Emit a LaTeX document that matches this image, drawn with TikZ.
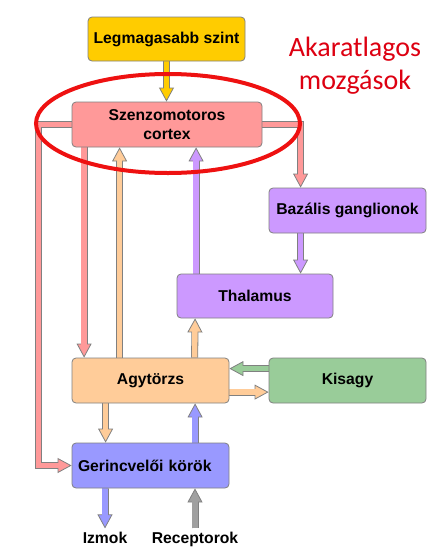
\documentclass[tikz,border=0pt]{standalone}
\usepackage{fontspec}
\setmainfont{Liberation Sans}
\newfontfamily\calib{Carlito}
\usetikzlibrary{arrows.meta,calc}
\definecolor{gold}{HTML}{FFCC00}
\definecolor{pinkc}{HTML}{FF9999}
\definecolor{purp}{HTML}{CC99FF}
\definecolor{peach}{HTML}{FFCC99}
\definecolor{greenc}{HTML}{99CC99}
\definecolor{bluec}{HTML}{9999FF}
\definecolor{grayc}{HTML}{A0A0A0}
\definecolor{bord}{HTML}{808080}
\definecolor{ellred}{HTML}{EE1111}
\definecolor{txtred}{HTML}{DD0011}
\pgfdeclarelayer{arrowlayer}
\pgfsetlayers{arrowlayer,main}
\newcommand\blockarrow[2]{%
  \draw[line width=7pt, draw=bord, line join=miter,
    -{Triangle[width=15pt,length=14pt,line width=0.8pt,fill=#1]}] #2;
  \draw[line width=5.4pt, draw=#1, line join=miter, shorten >=12.5pt] #2;}
\tikzset{
  box/.style={draw=bord, line width=0.8pt, rounded corners=4pt,
    minimum width=157pt, minimum height=45pt, inner sep=0pt,
    font=\bfseries\fontsize{15.7}{19}\selectfont, align=center},
  lbl/.style={font=\bfseries\fontsize{15.7}{19}\selectfont, inner sep=3pt, anchor=base}
}
\begin{document}
\begin{tikzpicture}[x=1pt,y=-1pt]
\useasboundingbox (0,0) rectangle (439,555);
\node[box, fill=gold, minimum height=44pt] (legm) at (166.5,39) {Legmagasabb szint};
\node[box, fill=pinkc, minimum width=190pt] (cortex) at (167,124.5) {Szenzomotoros\\cortex};
\node[box, fill=purp] (bazalis) at (347.5,210.5) {Bazális ganglionok};
\node[box, fill=purp, minimum width=156pt, minimum height=44pt] (thalamus) at (255,296) {Thalamus};
\node[box, fill=peach] (agy) at (150.5,380.5) {Agytörzs};
\node[box, fill=greenc] (kisagy) at (347.5,380.5) {Kisagy};
\node[box, fill=bluec, text width=145pt, align=left] (gerinc) at (150.5,465.5) {Gerincvelői körök};
\node[lbl] (izmok) at (105,543) {Izmok};
\node[lbl] (recept) at (195,543) {Receptorok};
\node[font=\calib\fontsize{28}{33}\selectfont, text=txtred, align=center] (akar) at (355,66) {Akaratlagos\\mozgások};
\begin{pgfonlayer}{arrowlayer}
\blockarrow{gold}{(legm.south) -- (legm.south |- cortex.north)}
\blockarrow{pinkc}{(cortex.west) -- ++(-33,0) |- (gerinc.west)}
\blockarrow{pinkc}{([xshift=12.5pt]cortex.south west) -- ([xshift=12.5pt]agy.north west)}
\blockarrow{pinkc}{(cortex.east) -| ([xshift=32pt]bazalis.north west)}
\blockarrow{peach}{([xshift=48pt]agy.north west) -- ([xshift=48pt]cortex.south west)}
\blockarrow{purp}{([xshift=19.5pt]thalamus.north west) -- ([xshift=124.5pt]cortex.south west)}
\blockarrow{purp}{([xshift=32pt]bazalis.south west) -- ([xshift=124pt]thalamus.north west)}
\blockarrow{peach}{([xshift=123pt]agy.north west) -- ([xshift=18.5pt]thalamus.south west)}
\blockarrow{greenc}{([yshift=-11pt]kisagy.north west) -- ([yshift=-11pt]agy.north east)}
\blockarrow{peach}{([yshift=-34.5pt]agy.north east) -- ([yshift=-34.5pt]kisagy.north west)}
\blockarrow{peach}{([xshift=34pt]agy.south west) -- ([xshift=34pt]gerinc.north west)}
\blockarrow{bluec}{([xshift=123.5pt]gerinc.north west) -- ([xshift=123.5pt]agy.south west)}
\blockarrow{bluec}{([xshift=34pt]gerinc.south west) -- (gerinc.south west -| izmok.north) -- (izmok.north)}
\blockarrow{grayc}{(recept.north) -- (recept.north |- gerinc.south)}
\end{pgfonlayer}
\draw[ellred, line width=4pt] (168,123.5) ellipse [x radius=132pt, y radius=49.5pt];
\end{tikzpicture}
\end{document}
